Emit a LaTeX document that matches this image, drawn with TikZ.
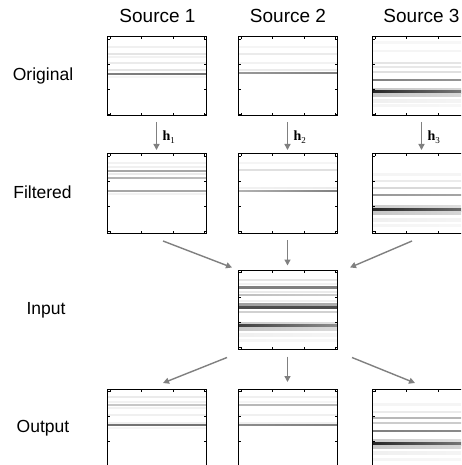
\documentclass[tikz,border=0pt]{standalone}
\usepackage{fontspec}
\setmainfont{Liberation Sans}
\newfontfamily\serifh{Liberation Serif}
\usetikzlibrary{arrows.meta}
\tikzset{
  panelnode/.style={minimum width=99pt, minimum height=79pt, inner sep=0pt, outer sep=0pt},
  rowlabel/.style={font=\fontsize{17.5}{17.5}\selectfont, inner sep=0pt},
  collabel/.style={font=\fontsize{19}{19}\selectfont, inner sep=0pt},
  hlabel/.style={font=\fontsize{14}{14}\selectfont, inner sep=0pt, anchor=west},
  arr/.style={draw=black!50, line width=1.4pt, -{Triangle[length=6pt,width=6pt]}},
}
\newcommand\panelcontent[2]{%
  \begin{scope}[shift={(#1.north west)}]
    \fill[white] (0,0) rectangle (99,79);
    \foreach \yy/\gl/\gr/\ww in {#2} {
      \shade[left color=black!\gl, right color=black!\gr] (0,{\yy-\ww/2}) rectangle (99,{\yy+\ww/2});
    }
    \draw[line width=1pt] (0,0) rectangle (99,79);
    \foreach \t in {3,34,66,97} {
      \draw[line width=0.8pt] (\t,0) -- (\t,2.5);
      \draw[line width=0.8pt] (\t,79) -- (\t,76.5);
    }
    \foreach \t in {2,27,52,77} {
      \draw[line width=0.8pt] (0,\t) -- (2.5,\t);
      \draw[line width=0.8pt] (99,\t) -- (96.5,\t);
    }
  \end{scope}%
}
\newcommand\hsub[1]{{\serifh\textbf{h}\raisebox{-2.5pt}{\fontsize{9}{9}\selectfont #1}}}
\begin{document}
\begin{tikzpicture}[x=1pt,y=-1pt]
\clip (0,0) rectangle (461,465);
\fill[white] (0,0) rectangle (461,465);

% column labels
\node[collabel] (c1) at (157.5,16) {Source 1};
\node[collabel] (c2) at (288,16) {Source 2};
\node[collabel] (c3) at (421.5,16) {Source 3};

% row labels
\node[rowlabel] (r1) at (43,76) {Original};
\node[rowlabel] (r2) at (42.5,192) {Filtered};
\node[rowlabel] (r3) at (46,310) {Input};
\node[rowlabel] (r4) at (43,428) {Output};

% panels
\node[panelnode] (o1) at (156.5,76.5) {};
\node[panelnode] (o2) at (287.5,76.5) {};
\node[panelnode] (o3) at (421.5,76.5) {};
\node[panelnode] (f1) at (156.5,193.5) {};
\node[panelnode] (f2) at (287.5,193.5) {};
\node[panelnode] (f3) at (421.5,193.5) {};
\node[panelnode] (in) at (287.5,310) {};
\node[panelnode] (u1) at (156.5,428.5) {};
\node[panelnode] (u2) at (287.5,428.5) {};
\node[panelnode] (u3) at (421.5,428.5) {};

\panelcontent{o1}{10/6/6/1, 17/10/10/1, 20/5/5/1, 26/8/8/1, 33/10/10/1, 37/50/55/1.3, 40/4/4/1}
\panelcontent{o2}{10/4/4/1, 17/8/8/1, 26/5/5/1, 33/8/8/1, 36/40/50/1.3}
\panelcontent{o3}{6/3/3/2, 14/4/4/1, 26/10/10/1, 30/9/9/1, 35/12/12/1, 43/50/40/1.3, 53/22/15/3, 55/85/50/2.2, 58/22/15/3, 64/6/4/3, 69/4/3/2}
\panelcontent{f1}{9/5/5/1, 13/6/6/1, 17/35/35/1, 20/8/8/1, 24/30/25/1, 37/35/35/1.1, 40/5/5/1}
\panelcontent{f2}{9/4/4/1, 16/12/12/1, 34/5/8/1, 37/30/50/1.1}
\panelcontent{f3}{20/4/4/2, 27/8/8/1, 34/15/15/1, 41/40/35/1.2, 53/20/12/3, 56/85/55/2.2, 59/22/15/3, 66/6/4/3, 71/4/3/2}
\panelcontent{in}{9/10/10/1, 13/5/5/1, 17/50/50/1.1, 21/8/8/1, 24/25/20/1, 30/6/6/1, 34/38/32/1.1, 37/70/70/1.1, 41/18/18/1, 53/20/12/3, 55/75/45/2.2, 58/22/15/3, 64/6/4/3, 70/4/3/2}
\panelcontent{u1}{8/8/8/1, 13/5/5/1, 16/22/22/1, 19/5/5/1, 26/6/6/1, 34/6/6/1, 36/55/55/1.2, 39/4/4/1}
\panelcontent{u2}{8/6/6/1, 13/4/4/1, 16/28/28/1, 26/6/6/1, 34/6/6/1, 36/45/50/1.2}
\panelcontent{u3}{15/4/4/2, 23/8/8/1, 29/28/28/1.1, 34/20/20/1, 42/50/45/1.2, 52/20/12/3, 55/85/50/2.2, 58/22/15/3, 64/6/4/3, 70/4/3/2}

% filter arrows
\draw[arr, shorten <=6pt, shorten >=4pt] (o1) -- (f1);
\draw[arr, shorten <=6pt, shorten >=4pt] (o2) -- (f2);
\draw[arr, shorten <=6pt, shorten >=4pt] (o3) -- (f3);
\node[hlabel] (h1) at (162.5,137) {\hsub{1}};
\node[hlabel] (h2) at (293.5,137) {\hsub{2}};
\node[hlabel] (h3) at (427.5,137) {\hsub{3}};

% mixing arrows
\draw[arr] ([xshift=6.5pt,yshift=-8pt]f1.south) -- ([xshift=-6pt,yshift=3pt]in.north west);
\draw[arr, shorten <=7pt, shorten >=5pt] (f2) -- (in);
\draw[arr] ([xshift=-9.5pt,yshift=-8pt]f3.south) -- ([xshift=13pt,yshift=3pt]in.north east);

% separation arrows
\draw[arr] ([xshift=-11pt,yshift=-8pt]in.south west) -- ([xshift=6.5pt,yshift=6pt]u1.north);
\draw[arr, shorten <=7pt, shorten >=7pt] (in) -- (u2);
\draw[arr] ([xshift=15pt,yshift=-8pt]in.south east) -- ([xshift=-6.5pt,yshift=6pt]u3.north);
\end{tikzpicture}
\end{document}
